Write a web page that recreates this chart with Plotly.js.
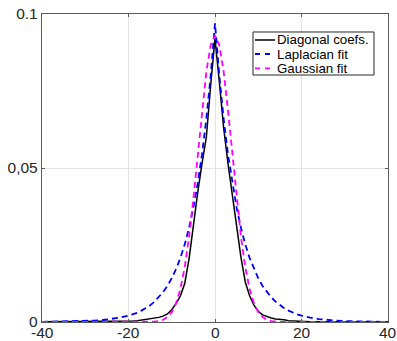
<!DOCTYPE html>
<html>
<head>
<meta charset="utf-8">
<script src="https://cdn.plot.ly/plotly-3.0.1.min.js"></script>
<style>html,body{margin:0;padding:0;background:#fff;}#chart{width:397px;height:341px;}</style>
</head>
<body>
<div id="chart"></div>
<script>
// x positions (shared by all series)
const xVals = [-40,-38,-36,-34,-32,-30,-28,-26,-24,-22,-20,-19,-18,-17,-16,-15,-14,-13,-12,-11,-10,-9,-8,-7,-6,-5,-4,-3,-2,-1,0,1,2,3,4,5,6,7,8,9,10,11,12,13,14,15,16,17,18,19,20,22,24,26,28,30,32,34,36,38,40];

// Diagonal coefficients (empirical)
const diagCoefs = [0.0001,0.0001,0.0001,0.0001,0.0001,0.0001,0.0001,0.0001,0.0001,0.0001,0.0002,0.0003,0.0004,0.0006,0.0008,0.0010,0.0013,0.0015,0.0019,0.0026,0.0040,0.0060,0.0085,0.0125,0.0205,0.0315,0.0420,0.0515,0.0600,0.0770,0.0920,0.0780,0.0630,0.0515,0.0410,0.0315,0.0210,0.0130,0.0085,0.0055,0.0035,0.0023,0.0017,0.0013,0.0010,0.0009,0.0007,0.0004,0.0003,0.0002,0.0001,0.0001,0.0001,0.0001,0.0001,0.0001,0.0001,0.0001,0.0001,0.0001,0.0001];

// Laplacian fit
const laplacianFit = [0.00004,0.00007,0.0001,0.00014,0.00021,0.0003,0.00045,0.00065,0.00096,0.0014,0.0021,0.0025,0.0030,0.0037,0.0045,0.0054,0.0066,0.0080,0.0097,0.0117,0.0142,0.0172,0.0208,0.0252,0.0306,0.0371,0.0450,0.0545,0.0660,0.0800,0.0970,0.0800,0.0660,0.0545,0.0450,0.0371,0.0306,0.0252,0.0208,0.0172,0.0142,0.0117,0.0097,0.0080,0.0066,0.0054,0.0045,0.0037,0.0030,0.0025,0.0021,0.0014,0.00096,0.00065,0.00045,0.0003,0.00021,0.00014,0.0001,0.00007,0.00004];

// Gaussian fit
const gaussianFit = [0,0,0,0,0,0,0,0,0,0,0,0,0,0,0.00002,0.00005,0.00012,0.00031,0.00072,0.0016,0.0032,0.0061,0.0107,0.0178,0.0276,0.0400,0.0542,0.0687,0.0813,0.0899,0.0930,0.0899,0.0813,0.0687,0.0542,0.0400,0.0276,0.0178,0.0107,0.0061,0.0032,0.0016,0.00072,0.00031,0.00012,0.00005,0.00002,0,0,0,0,0,0,0,0,0,0,0,0,0,0];

const seriesNames = ["Diagonal coefs.","Laplacian fit","Gaussian fit"];
const seriesColors = ['#000000','#0000ff','#ff00ff'];
const xTickVals = [-40,-20,0,20,40];
const xTickText = ["-40","-20","0","20","40"];
const yTickVals = [0,0.05,0.1];
const yTickText = ["0","0,05","0.1"];

const FONT = '"Liberation Sans", Arial, Helvetica, sans-serif';

const traces = [
  {x:xVals, y:diagCoefs, name:seriesNames[0], type:'scatter', mode:'lines', line:{color:seriesColors[0], width:1.5}},
  {x:xVals, y:laplacianFit, name:seriesNames[1], type:'scatter', mode:'lines', line:{color:seriesColors[1], width:1.8, dash:'6px,4px'}},
  {x:xVals, y:gaussianFit, name:seriesNames[2], type:'scatter', mode:'lines', line:{color:seriesColors[2], width:1.8, dash:'6px,4px'}}
];

const axisCommon = {
  showgrid:true, gridcolor:'#e3e3e3', gridwidth:1,
  zeroline:false, showline:true, linecolor:'#5a5a5a', linewidth:1.2, mirror:'ticks',
  ticks:'inside', ticklen:3, tickcolor:'#5a5a5a', tickwidth:1,
  tickfont:{family:FONT, size:15.5, color:'#262626'},
  tickmode:'array'
};

// x tick labels as annotations (to sit closer to the axis)
const annotations = xTickVals.map((v,i) => ({
  x:v, y:0, xref:'x', yref:'paper', text:xTickText[i], showarrow:false,
  xanchor:'center', yanchor:'top', yshift:-1, borderpad:0,
  font:{family:FONT, size:15.5, color:'#262626'}
}));

// Manual legend (MATLAB-like, compact)
const legBox = {x0:0.6098, x1:0.9595, y0:0.8019, y1:0.9416};
const legRows = [0.9156, 0.8701, 0.8237];
const legLineX = [0.6156, 0.6734];
const legTextX = 0.6763;
const shapes = [
  {type:'rect', xref:'paper', yref:'paper', x0:legBox.x0, x1:legBox.x1, y0:legBox.y0, y1:legBox.y1,
   line:{color:'#262626', width:1}, fillcolor:'#ffffff', layer:'above'}
];
traces.forEach((t,i) => {
  shapes.push({type:'line', xref:'paper', yref:'paper', x0:legLineX[0], x1:legLineX[1], y0:legRows[i], y1:legRows[i],
    line:{color:t.line.color, width:t.line.width, dash: i===0 ? 'solid' : '5px,5px'}, layer:'above'});
  annotations.push({x:legTextX, y:legRows[i], xref:'paper', yref:'paper', text:t.name, showarrow:false,
    xanchor:'left', yanchor:'middle', borderpad:0,
    font:{family:FONT, size:13.3, color:'#000000'}});
});

const layout = {
  width:397, height:341,
  margin:{l:42, r:9, t:14, b:19, pad:0},
  paper_bgcolor:'#ffffff', plot_bgcolor:'#ffffff',
  showlegend:false,
  xaxis:Object.assign({}, axisCommon, {range:[-40,40], tickvals:xTickVals, ticktext:xTickText, showticklabels:false}),
  yaxis:Object.assign({}, axisCommon, {range:[0,0.1], tickvals:yTickVals, ticktext:yTickText}),
  shapes:shapes,
  annotations:annotations
};

Plotly.newPlot('chart', traces, layout, {staticPlot:true, displayModeBar:false});
</script>
</body>
</html>
